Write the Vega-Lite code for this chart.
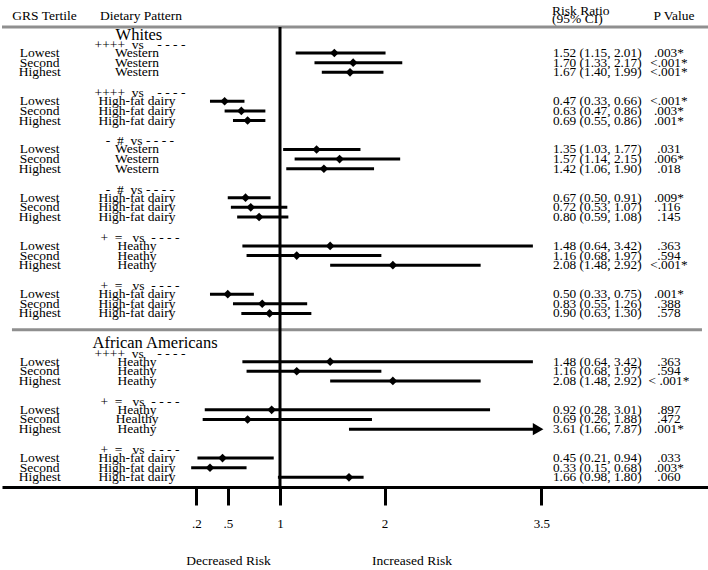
{
  "$schema": "https://vega.github.io/schema/vega-lite/v6.json",
  "width": 708,
  "height": 487,
  "padding": 0,
  "autosize": {"type": "pad"},
  "background": "white",
  "config": {
    "font": "Liberation Serif",
    "view": {"stroke": null},
    "axisX": {
      "domainColor": "black",
      "domainWidth": 3,
      "tickColor": "black",
      "tickWidth": 3,
      "tickSize": 18,
      "labelFont": "Liberation Serif",
      "labelFontSize": 13,
      "labelColor": "black",
      "labelPadding": 12,
      "grid": false
    },
    "text": {"font": "Liberation Serif", "fontSize": 13.5, "color": "black", "baseline": "middle"}
  },
  "datasets": {
    "rows": [
      {"order": 0, "tertile": "Lowest", "pattern": "Western", "rr": 1.52, "lo": 1.15, "hi": 2.01, "ci": "1.52 (1.15, 2.01)", "p": ".003*"},
      {"order": 1, "tertile": "Second", "pattern": "Western", "rr": 1.70, "lo": 1.33, "hi": 2.17, "ci": "1.70 (1.33, 2.17)", "p": "<.001*"},
      {"order": 2, "tertile": "Highest", "pattern": "Western", "rr": 1.67, "lo": 1.40, "hi": 1.99, "ci": "1.67 (1.40, 1.99)", "p": "<.001*"},
      {"order": 5, "tertile": "Lowest", "pattern": "High-fat dairy", "rr": 0.47, "lo": 0.33, "hi": 0.66, "ci": "0.47 (0.33, 0.66)", "p": "<.001*"},
      {"order": 6, "tertile": "Second", "pattern": "High-fat dairy", "rr": 0.63, "lo": 0.47, "hi": 0.86, "ci": "0.63 (0.47, 0.86)", "p": ".003*"},
      {"order": 7, "tertile": "Highest", "pattern": "High-fat dairy", "rr": 0.69, "lo": 0.55, "hi": 0.86, "ci": "0.69 (0.55, 0.86)", "p": ".001*"},
      {"order": 10, "tertile": "Lowest", "pattern": "Western", "rr": 1.35, "lo": 1.03, "hi": 1.77, "ci": "1.35 (1.03, 1.77)", "p": ".031"},
      {"order": 11, "tertile": "Second", "pattern": "Western", "rr": 1.57, "lo": 1.14, "hi": 2.15, "ci": "1.57 (1.14, 2.15)", "p": ".006*"},
      {"order": 12, "tertile": "Highest", "pattern": "Western", "rr": 1.42, "lo": 1.06, "hi": 1.90, "ci": "1.42 (1.06, 1.90)", "p": ".018"},
      {"order": 15, "tertile": "Lowest", "pattern": "High-fat dairy", "rr": 0.67, "lo": 0.50, "hi": 0.91, "ci": "0.67 (0.50, 0.91)", "p": ".009*"},
      {"order": 16, "tertile": "Second", "pattern": "High-fat dairy", "rr": 0.72, "lo": 0.53, "hi": 1.07, "ci": "0.72 (0.53, 1.07)", "p": ".116"},
      {"order": 17, "tertile": "Highest", "pattern": "High-fat dairy", "rr": 0.80, "lo": 0.59, "hi": 1.08, "ci": "0.80 (0.59, 1.08)", "p": ".145"},
      {"order": 20, "tertile": "Lowest", "pattern": "Heathy", "rr": 1.48, "lo": 0.64, "hi": 3.42, "ci": "1.48 (0.64, 3.42)", "p": ".363"},
      {"order": 21, "tertile": "Second", "pattern": "Heathy", "rr": 1.16, "lo": 0.68, "hi": 1.97, "ci": "1.16 (0.68, 1.97)", "p": ".594"},
      {"order": 22, "tertile": "Highest", "pattern": "Heathy", "rr": 2.08, "lo": 1.48, "hi": 2.92, "ci": "2.08 (1.48, 2.92)", "p": "<.001*"},
      {"order": 25, "tertile": "Lowest", "pattern": "High-fat dairy", "rr": 0.50, "lo": 0.33, "hi": 0.75, "ci": "0.50 (0.33, 0.75)", "p": ".001*"},
      {"order": 26, "tertile": "Second", "pattern": "High-fat dairy", "rr": 0.83, "lo": 0.55, "hi": 1.26, "ci": "0.83 (0.55, 1.26)", "p": ".388"},
      {"order": 27, "tertile": "Highest", "pattern": "High-fat dairy", "rr": 0.90, "lo": 0.63, "hi": 1.30, "ci": "0.90 (0.63, 1.30)", "p": ".578"},
      {"order": 32, "tertile": "Lowest", "pattern": "Heathy", "rr": 1.48, "lo": 0.64, "hi": 3.42, "ci": "1.48 (0.64, 3.42)", "p": ".363"},
      {"order": 33, "tertile": "Second", "pattern": "Heathy", "rr": 1.16, "lo": 0.68, "hi": 1.97, "ci": "1.16 (0.68, 1.97)", "p": ".594"},
      {"order": 34, "tertile": "Highest", "pattern": "Heathy", "rr": 2.08, "lo": 1.48, "hi": 2.92, "ci": "2.08 (1.48, 2.92)", "p": "< .001*"},
      {"order": 37, "tertile": "Lowest", "pattern": "Heathy", "rr": 0.92, "lo": 0.28, "hi": 3.01, "ci": "0.92 (0.28, 3.01)", "p": ".897"},
      {"order": 38, "tertile": "Second", "pattern": "Healthy", "rr": 0.69, "lo": 0.26, "hi": 1.88, "ci": "0.69 (0.26, 1.88)", "p": ".472"},
      {"order": 39, "tertile": "Highest", "pattern": "Heathy", "rr": 3.61, "lo": 1.66, "hi": 7.87, "ci": "3.61 (1.66, 7.87)", "p": ".001*"},
      {"order": 42, "tertile": "Lowest", "pattern": "High-fat dairy", "rr": 0.45, "lo": 0.21, "hi": 0.94, "ci": "0.45 (0.21, 0.94)", "p": ".033"},
      {"order": 43, "tertile": "Second", "pattern": "High-fat dairy", "rr": 0.33, "lo": 0.15, "hi": 0.68, "ci": "0.33 (0.15, 0.68)", "p": ".003*"},
      {"order": 44, "tertile": "Highest", "pattern": "High-fat dairy", "rr": 1.66, "lo": 0.98, "hi": 1.80, "ci": "1.66 (0.98, 1.80)", "p": ".060"}
    ],
    "heads": [
      {"order": 0, "contrast": "++++\u00a0\u00a0vs\u00a0\u00a0\u00a0\u00a0-\u00a0-\u00a0-\u00a0-"},
      {"order": 5, "contrast": "++++\u00a0\u00a0vs\u00a0\u00a0\u00a0\u00a0-\u00a0-\u00a0-\u00a0-"},
      {"order": 10, "contrast": "-\u00a0\u00a0#\u00a0\u00a0vs\u00a0-\u00a0-\u00a0-\u00a0-"},
      {"order": 15, "contrast": "-\u00a0\u00a0#\u00a0\u00a0vs\u00a0-\u00a0-\u00a0-\u00a0-"},
      {"order": 20, "contrast": "+\u00a0\u00a0=\u00a0\u00a0\u00a0vs\u00a0\u00a0-\u00a0-\u00a0-\u00a0-"},
      {"order": 25, "contrast": "+\u00a0\u00a0=\u00a0\u00a0\u00a0vs\u00a0\u00a0-\u00a0-\u00a0-\u00a0-"},
      {"order": 32, "contrast": "++++\u00a0\u00a0vs\u00a0\u00a0\u00a0\u00a0-\u00a0-\u00a0-\u00a0-"},
      {"order": 37, "contrast": "+\u00a0\u00a0=\u00a0\u00a0\u00a0vs\u00a0\u00a0-\u00a0-\u00a0-\u00a0-"},
      {"order": 42, "contrast": "+\u00a0\u00a0=\u00a0\u00a0\u00a0vs\u00a0\u00a0-\u00a0-\u00a0-\u00a0-"}
    ]
  },
  "layer": [
    {
      "data": {"values": [{}]},
      "mark": {"type": "rule", "color": "#8f8f8f", "strokeWidth": 3},
      "encoding": {
        "y": {"datum": -2.7, "type": "quantitative", "scale": {"domain": [-5.5, 45], "reverse": true, "nice": false, "zero": false}, "axis": null}
      }
    },
    {
      "data": {"values": [{}]},
      "mark": {"type": "rule", "color": "#8f8f8f", "strokeWidth": 3},
      "encoding": {
        "x": {"datum": -1.565, "type": "quantitative"},
        "x2": {"datum": 5.038},
        "y": {"datum": 28.7, "type": "quantitative", "axis": null}
      }
    },
    {
      "data": {"values": [{}]},
      "mark": {"type": "rule", "color": "black", "strokeWidth": 3},
      "encoding": {
        "x": {"datum": 1, "type": "quantitative"},
        "y": {"datum": -2.7, "type": "quantitative", "axis": null},
        "y2": {"datum": 45}
      }
    },
    {
      "data": {"name": "rows"},
      "transform": [{"filter": "datum.hi <= 3.5"}],
      "mark": {"type": "rule", "color": "black", "strokeWidth": 3},
      "encoding": {
        "x": {
          "field": "lo", "type": "quantitative", "title": null,
          "scale": {"domain": [-1.6603, 5.1148], "nice": false, "zero": false},
          "axis": {
            "title": null,
            "values": [0.2, 0.5, 1, 2, 3.5],
            "labelExpr": "datum.value < 1 ? replace(format(datum.value, '.1f'), '0.', '.') : format(datum.value, '~g')"
          }
        },
        "x2": {"field": "hi"},
        "y": {"field": "order", "type": "quantitative", "axis": null}
      }
    },
    {
      "data": {"name": "rows"},
      "transform": [{"filter": "datum.hi > 3.5"}],
      "mark": {"type": "rule", "color": "black", "strokeWidth": 3},
      "encoding": {
        "x": {"field": "lo", "type": "quantitative", "title": null},
        "x2": {"datum": 3.45},
        "y": {"field": "order", "type": "quantitative", "axis": null}
      }
    },
    {
      "data": {"name": "rows"},
      "transform": [{"filter": "datum.hi > 3.5"}],
      "mark": {"type": "point", "shape": "triangle-right", "filled": true, "color": "black", "opacity": 1, "size": 150},
      "encoding": {
        "x": {"datum": 3.47, "type": "quantitative"},
        "y": {"field": "order", "type": "quantitative", "axis": null}
      }
    },
    {
      "data": {"name": "rows"},
      "transform": [{"filter": "datum.hi <= 3.5"}],
      "mark": {"type": "point", "shape": "diamond", "filled": true, "color": "black", "opacity": 1, "size": 75},
      "encoding": {
        "x": {"field": "rr", "type": "quantitative", "title": null},
        "y": {"field": "order", "type": "quantitative", "axis": null}
      }
    },
    {
      "data": {"name": "rows"},
      "mark": {"type": "text", "align": "center"},
      "encoding": {
        "x": {"datum": -1.3, "type": "quantitative"},
        "y": {"field": "order", "type": "quantitative", "axis": null},
        "text": {"field": "tertile"}
      }
    },
    {
      "data": {"name": "rows"},
      "mark": {"type": "text", "align": "center"},
      "encoding": {
        "x": {"datum": -0.368, "type": "quantitative"},
        "y": {"field": "order", "type": "quantitative", "axis": null},
        "text": {"field": "pattern"}
      }
    },
    {
      "data": {"name": "rows"},
      "mark": {"type": "text", "align": "left", "fontSize": 13.3},
      "encoding": {
        "x": {"datum": 3.612, "type": "quantitative"},
        "y": {"field": "order", "type": "quantitative", "axis": null},
        "text": {"field": "ci"}
      }
    },
    {
      "data": {"name": "rows"},
      "mark": {"type": "text", "align": "center", "fontSize": 13.3},
      "encoding": {
        "x": {"datum": 4.722, "type": "quantitative"},
        "y": {"field": "order", "type": "quantitative", "axis": null},
        "text": {"field": "p"}
      }
    },
    {
      "data": {"name": "heads"},
      "mark": {"type": "text", "align": "center", "dy": -8},
      "encoding": {
        "x": {"datum": -0.34, "type": "quantitative"},
        "y": {"field": "order", "type": "quantitative", "axis": null},
        "text": {"field": "contrast"}
      }
    },
    {
      "data": {"values": [{}]},
      "mark": {"type": "text", "align": "center", "fontSize": 16.5, "text": "Whites"},
      "encoding": {
        "x": {"datum": -0.35, "type": "quantitative"},
        "y": {"datum": -1.9, "type": "quantitative", "axis": null}
      }
    },
    {
      "data": {"values": [{}]},
      "mark": {"type": "text", "align": "center", "fontSize": 16.5, "text": "African Americans"},
      "encoding": {
        "x": {"datum": -0.196, "type": "quantitative"},
        "y": {"datum": 30.07, "type": "quantitative", "axis": null}
      }
    },
    {
      "data": {"values": [{}]},
      "mark": {"type": "text", "align": "center", "text": "GRS Tertile"},
      "encoding": {
        "x": {"datum": -1.254, "type": "quantitative"},
        "y": {"datum": -3.84, "type": "quantitative", "axis": null}
      }
    },
    {
      "data": {"values": [{}]},
      "mark": {"type": "text", "align": "center", "text": "Dietary Pattern"},
      "encoding": {
        "x": {"datum": -0.33, "type": "quantitative"},
        "y": {"datum": -3.84, "type": "quantitative", "axis": null}
      }
    },
    {
      "data": {"values": [{}]},
      "mark": {"type": "text", "align": "left", "text": "Risk Ratio"},
      "encoding": {
        "x": {"datum": 3.603, "type": "quantitative"},
        "y": {"datum": -4.41, "type": "quantitative", "axis": null}
      }
    },
    {
      "data": {"values": [{}]},
      "mark": {"type": "text", "align": "left", "text": "(95% CI)"},
      "encoding": {
        "x": {"datum": 3.603, "type": "quantitative"},
        "y": {"datum": -3.53, "type": "quantitative", "axis": null}
      }
    },
    {
      "data": {"values": [{}]},
      "mark": {"type": "text", "align": "center", "text": "P Value"},
      "encoding": {
        "x": {"datum": 4.77, "type": "quantitative"},
        "y": {"datum": -3.84, "type": "quantitative", "axis": null}
      }
    },
    {
      "data": {"values": [{}]},
      "mark": {"type": "text", "align": "center", "text": "Decreased Risk"},
      "encoding": {
        "x": {"datum": 0.507, "type": "quantitative"},
        "y": {"datum": 52.7, "type": "quantitative", "axis": null}
      }
    },
    {
      "data": {"values": [{}]},
      "mark": {"type": "text", "align": "center", "text": "Increased Risk"},
      "encoding": {
        "x": {"datum": 2.263, "type": "quantitative"},
        "y": {"datum": 52.7, "type": "quantitative", "axis": null}
      }
    }
  ]
}
